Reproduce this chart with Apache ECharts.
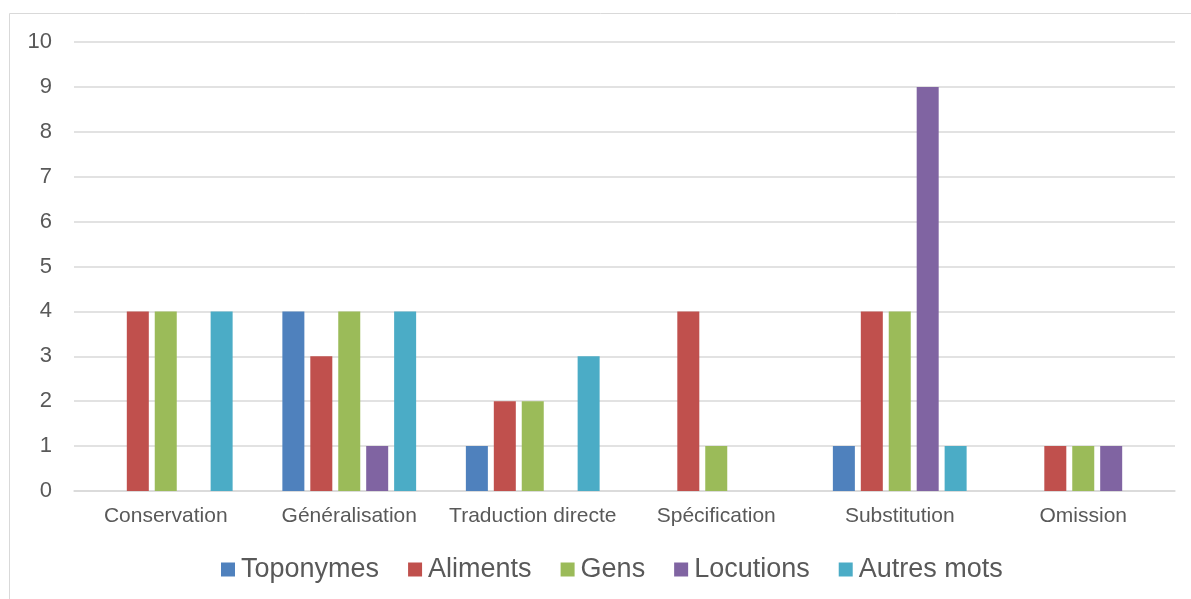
<!DOCTYPE html>
<html>
<head>
<meta charset="utf-8">
<script src="https://cdn.jsdelivr.net/npm/echarts@6/dist/echarts.min.js"></script>
<style>
  html, body { margin: 0; padding: 0; background: #fff; }
  #chart { width: 1191px; height: 599px; }
</style>
</head>
<body>
<div id="chart"></div>
<script>
// catégories (axe x)
const categories = ["Conservation", "Généralisation", "Traduction directe", "Spécification", "Substitution", "Omission"];
// séries
const toponymes = [0, 4, 1, 0, 1, 0];
const aliments = [4, 3, 2, 4, 4, 1];
const gens = [4, 4, 2, 1, 4, 1];
const locutions = [0, 1, 0, 0, 9, 1];
const autresMots = [4, 4, 3, 0, 1, 0];

const seriesNames = ["Toponymes", "Aliments", "Gens", "Locutions", "Autres mots"];
const seriesData = [toponymes, aliments, gens, locutions, autresMots];
const colors = ["#4F81BD", "#C0504D", "#9BBB59", "#8064A2", "#4BACC6"];

const chart = echarts.init(document.getElementById("chart"));
chart.setOption({
  animation: false,
  color: colors,
  textStyle: { fontFamily: "Liberation Sans, Arial, sans-serif" },
  graphic: [{
    type: "rect",
    shape: { x: 9.5, y: 13.5, width: 1200, height: 600 },
    style: { fill: "none", stroke: "#d9d9d9", lineWidth: 1 },
    silent: true
  }],
  grid: { left: 74, right: 16, top: 42, bottom: 108, containLabel: false },
  legend: {
    bottom: 11,
    left: 216,
    itemWidth: 14,
    itemHeight: 14,
    itemGap: 29,
    icon: "rect",
    textStyle: { fontSize: 27, color: "#595959", padding: [0, 0, 0, 1] },
    data: seriesNames
  },
  xAxis: {
    type: "category",
    data: categories,
    axisLine: { lineStyle: { color: "#d9d9d9", width: 1.5 } },
    axisTick: { show: false },
    axisLabel: { fontSize: 21, color: "#595959", margin: 15, interval: 0 }
  },
  yAxis: {
    type: "value",
    min: 0,
    max: 10,
    interval: 1,
    axisLine: { show: false },
    axisTick: { show: false },
    axisLabel: { fontSize: 22, color: "#595959", margin: 22 },
    splitLine: { lineStyle: { color: "#d9d9d9", width: 1.5 } }
  },
  series: seriesNames.map((name, i) => ({
    name: name,
    type: "bar",
    data: seriesData[i],
    barWidth: 22,
    barGap: "27%",
    itemStyle: { color: colors[i] }
  }))
});
</script>
</body>
</html>
